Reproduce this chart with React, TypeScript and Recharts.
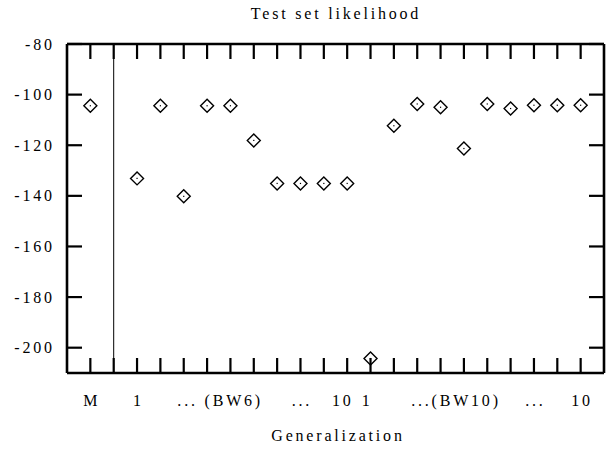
import React from "react";
import { ScatterChart, Scatter, XAxis, YAxis, ReferenceLine } from "recharts";

// test set log likelihood per model
const modelScore = [-104.4];
const bw6Scores = [-133.1, -104.4, -140.2, -104.4, -104.4, -118.1, -135.1, -135.1, -135.1, -135.1];
const bw10Scores = [-204.3, -112.3, -103.7, -105, -121.3, -103.7, -105.5, -104.2, -104.2, -104.2];

const yTicks = [-200, -180, -160, -140, -120, -100, -80];
const xTickMarks = [1, 2, 3, 4, 5, 6, 7, 8, 9, 10, 11, 12, 13, 14, 15, 16, 17, 18, 19, 20, 21, 22];
const xLabelPos = [1, 3, 6.5, 10, 11.75, 12.8, 16.6, 20, 22];
const xLabelText = ["M", "1", "... (BW6)", "...", "10", "1", "...(BW10)", "...", "10"];

const points = [
  ...modelScore.map((y) => ({ x: 1, y })),
  ...bw6Scores.map((y, i) => ({ x: 3 + i, y })),
  ...bw10Scores.map((y, i) => ({ x: 13 + i, y })),
];

const FONT = "'Liberation Serif', serif";
const SP = 2.8;
const TICK = 15;

const allXTicks = Array.from(new Set([...xTickMarks, ...xLabelPos])).sort((a, b) => a - b);

const BottomTick = (props: any) => {
  const { x, y, payload } = props;
  const v = payload.value;
  const idx = xLabelPos.indexOf(v);
  return (
    <g>
      {xTickMarks.includes(v) && <line x1={x} x2={x} y1={y} y2={y - TICK} stroke="#000" strokeWidth={2.2} />}
      {idx >= 0 && (
        <text x={x + SP / 2} y={y + 33} textAnchor="middle" fontFamily={FONT} fontSize={16} letterSpacing={SP} fill="#000">
          {xLabelText[idx]}
        </text>
      )}
    </g>
  );
};

const TopTick = (props: any) => {
  const { x, y } = props;
  return <line x1={x} x2={x} y1={y} y2={y + TICK} stroke="#000" strokeWidth={2.2} />;
};

const LeftTick = (props: any) => {
  const { x, y, payload } = props;
  return (
    <g>
      <line x1={x} x2={x + TICK} y1={y} y2={y} stroke="#000" strokeWidth={2.2} />
      <text x={x - 15 + SP} y={y + 5.5} textAnchor="end" fontFamily={FONT} fontSize={16} letterSpacing={SP} fill="#000">
        {payload.value}
      </text>
    </g>
  );
};

const RightTick = (props: any) => {
  const { x, y } = props;
  return <line x1={x} x2={x - TICK} y1={y} y2={y} stroke="#000" strokeWidth={2.2} />;
};

const Diamond = (props: any) => {
  const { cx, cy } = props;
  const r = 6.5;
  return (
    <g>
      <path
        d={`M${cx},${cy - r}L${cx + r},${cy}L${cx},${cy + r}L${cx - r},${cy}Z`}
        fill="#fff"
        stroke="#000"
        strokeWidth={1.4}
      />
      <rect x={cx - 0.6} y={cy - 0.6} width={1.2} height={1.2} fill="#000" />
    </g>
  );
};

const Nothing = () => <g />;

const axisLine = { stroke: "#000", strokeWidth: 2.6 };

export default function App() {
  return (
    <div style={{ position: "absolute", left: 0, top: 0, width: 613, height: 453, background: "#fff" }}>
      <ScatterChart width={613} height={453} margin={{ top: 43, right: 8, bottom: 79, left: 0 }}>
        <XAxis
          type="number"
          dataKey="x"
          domain={[0, 23]}
          ticks={allXTicks}
          interval={0}
          height={1}
          tickSize={0}
          tickMargin={0}
          tickLine={false}
          axisLine={axisLine}
          tick={<BottomTick />}
        />
        <XAxis
          xAxisId="top"
          orientation="top"
          type="number"
          dataKey="x"
          domain={[0, 23]}
          ticks={xTickMarks}
          interval={0}
          height={1}
          tickSize={0}
          tickMargin={0}
          tickLine={false}
          axisLine={axisLine}
          tick={<TopTick />}
        />
        <YAxis
          type="number"
          dataKey="y"
          domain={[-210, -80]}
          ticks={yTicks}
          interval={0}
          width={67}
          tickSize={0}
          tickMargin={0}
          tickLine={false}
          axisLine={axisLine}
          tick={<LeftTick />}
        />
        <YAxis
          yAxisId="right"
          orientation="right"
          type="number"
          dataKey="y"
          domain={[-210, -80]}
          ticks={yTicks}
          interval={0}
          width={1}
          tickSize={0}
          tickMargin={0}
          tickLine={false}
          axisLine={axisLine}
          tick={<RightTick />}
        />
        <ReferenceLine x={2} stroke="#000" strokeWidth={1} />
        <Scatter
          xAxisId="top"
          yAxisId="right"
          data={points}
          shape={<Nothing />}
          legendType="none"
          isAnimationActive={false}
        />
        <Scatter data={points} shape={<Diamond />} isAnimationActive={false} />
      </ScatterChart>
      <svg width={613} height={453} style={{ position: "absolute", left: 0, top: 0, pointerEvents: "none" }}>
        <text x={336} y={19} textAnchor="middle" fontFamily={FONT} fontSize={16} letterSpacing={SP} fill="#000">
          Test set likelihood
        </text>
        <text x={338} y={441} textAnchor="middle" fontFamily={FONT} fontSize={16} letterSpacing={SP} fill="#000">
          Generalization
        </text>
      </svg>
    </div>
  );
}
